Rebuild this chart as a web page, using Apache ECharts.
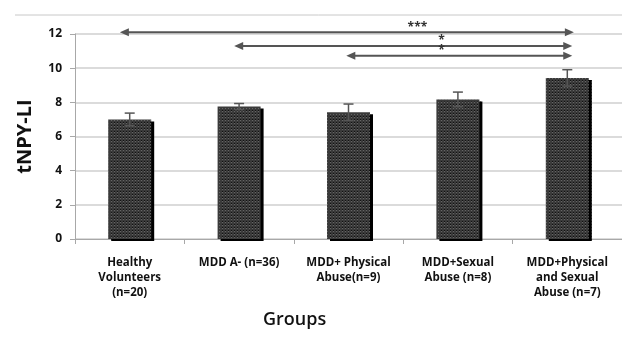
<!DOCTYPE html>
<html><head><meta charset="utf-8">
<script src="https://cdn.jsdelivr.net/npm/echarts@6/dist/echarts.min.js"></script>
<style>html,body{margin:0;padding:0;background:#fff}#c{width:622px;height:342px}</style>
</head><body><div id="c"></div>
<script>
var categories = ['Healthy\nVolunteers\n(n=20)', 'MDD A- (n=36)', 'MDD+ Physical\nAbuse(n=9)', 'MDD+Sexual\nAbuse (n=8)', 'MDD+Physical\nand Sexual\nAbuse (n=7)'];
var means = [7.0, 7.75, 7.42, 8.17, 9.43];
var errors = [0.37, 0.18, 0.48, 0.43, 0.48];
// significance brackets: [fromIndex, toIndex, yValue]
var brackets = [[-0.09, 4.06, 12.1], [0.955, 4.045, 11.3], [1.98, 4.045, 10.73]];
var sigLabels = [[2.63, 12.36, '***'], [2.85, 11.62, '*'], [2.85, 11.02, '*']];

var FONT = 'Open Sans';
var chart = echarts.init(document.getElementById('c'), null, {renderer: 'canvas'});

function arrowHead(x, y, dir, col) {
  return {type: 'polygon', shape: {points: [[x, y], [x - dir * 9, y - 4], [x - dir * 9, y + 4]]}, style: {fill: col}};
}

chart.setOption({
  animation: false,
  grid: {left: 75, right: -2, top: 34, bottom: 103, containLabel: false},
  graphic: [
    {type: 'line', shape: {x1: 15, y1: 15, x2: 622, y2: 15}, style: {stroke: '#c8c8c8', lineWidth: 1}},
    {type: 'text', left: 263, top: 311, style: {text: 'Groups', font: '600 18px "Open Sans"', fill: '#111'}}
  ],
  xAxis: [{
    type: 'category', data: categories,
    axisLine: {onZero: false, lineStyle: {color: '#a8a8a8'}},
    axisTick: {show: true, length: 5, lineStyle: {color: '#a8a8a8'}},
    axisLabel: {interval: 0, color: '#111', fontFamily: FONT, fontWeight: 'bold', fontSize: 11.5, lineHeight: 15, margin: 16}
  }, {
    type: 'value', min: -0.5, max: 4.5, show: false
  }],
  yAxis: {
    type: 'value', min: 0, max: 12, interval: 2,
    name: 'tNPY-LI', nameLocation: 'middle', nameGap: 40,
    nameTextStyle: {fontFamily: FONT, fontWeight: 'bold', fontSize: 20, color: '#111'},
    axisLine: {show: true, onZero: false, lineStyle: {color: '#a8a8a8'}},
    axisTick: {show: true, length: 5, lineStyle: {color: '#a8a8a8'}},
    axisLabel: {color: '#111', fontFamily: FONT, fontWeight: 'bold', fontSize: 12, margin: 13},
    splitLine: {lineStyle: {color: '#cfcfcf', width: 1.5}}
  },
  series: [{
    type: 'bar', data: means, barWidth: 43,
    itemStyle: {
      color: '#3a3a3a', shadowColor: '#000', shadowOffsetX: 3, shadowOffsetY: 2, shadowBlur: 0,
      decal: {symbol: 'rect', symbolSize: 1, color: 'rgba(120,120,120,0.7)', dashArrayX: [1, 2], dashArrayY: [1, 2], rotation: 0}
    }
  }, {
    type: 'custom', xAxisIndex: 1,
    data: means.map(function (m, i) { return [i, m]; }),
    renderItem: function (params, api) {
      var i = params.dataIndex;
      var lo = api.coord([i, means[i] - errors[i]]);
      var hi = api.coord([i, means[i] + errors[i]]);
      var st = {stroke: '#555', lineWidth: 1.5};
      return {type: 'group', children: [
        {type: 'line', shape: {x1: hi[0], y1: hi[1], x2: lo[0], y2: lo[1]}, style: st},
        {type: 'line', shape: {x1: hi[0] - 5, y1: hi[1], x2: hi[0] + 5, y2: hi[1]}, style: st},
        {type: 'line', shape: {x1: lo[0] - 5, y1: lo[1], x2: lo[0] + 5, y2: lo[1]}, style: st}
      ]};
    },
    z: 5
  }, {
    type: 'custom', xAxisIndex: 1, clip: false, silent: true,
    data: brackets,
    renderItem: function (params, api) {
      var bk = brackets[params.dataIndex];
      var a = api.coord([bk[0], bk[2]]);
      var b = api.coord([bk[1], bk[2]]);
      var col = '#555';
      return {type: 'group', children: [
        {type: 'line', shape: {x1: a[0] + 4, y1: a[1], x2: b[0] - 4, y2: b[1]}, style: {stroke: col, lineWidth: 2}},
        arrowHead(a[0], a[1], -1, col),
        arrowHead(b[0], b[1], 1, col)
      ]};
    },
    z: 6
  }, {
    type: 'custom', xAxisIndex: 1, clip: false, silent: true,
    data: sigLabels.map(function (s) { return [s[0], s[1]]; }),
    renderItem: function (params, api) {
      var s = sigLabels[params.dataIndex];
      var p = api.coord([s[0], s[1]]);
      return {type: 'text', x: p[0], y: p[1], style: {text: s[2], fill: '#333', font: 'bold 12px "Open Sans"', align: 'center', verticalAlign: 'middle'}};
    },
    z: 7
  }]
});
</script></body></html>
